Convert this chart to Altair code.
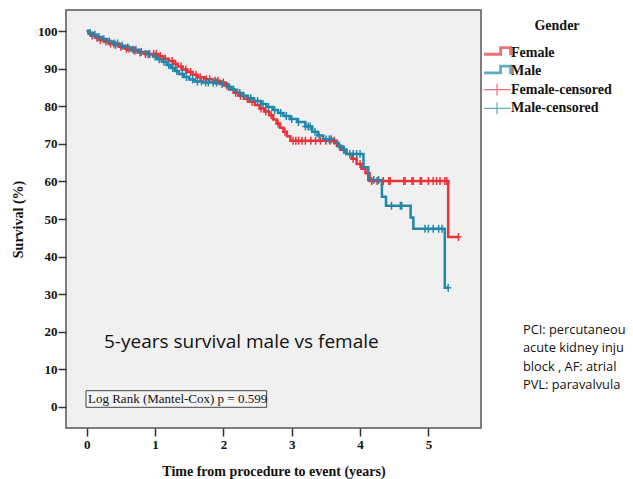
import altair as alt
import pandas as pd

# ---- Kaplan-Meier step points (time in years, survival %) ----
female_t = [0, 0.03, 0.07, 0.12, 0.18, 0.25, 0.32, 0.40, 0.48, 0.56, 0.65, 0.75, 0.85, 1.05, 1.12,
            1.20, 1.27, 1.33, 1.40, 1.47, 1.55, 1.62, 1.72, 1.85, 1.95, 2.02, 2.08, 2.15, 2.22, 2.30,
            2.38, 2.46, 2.53, 2.60, 2.67, 2.73, 2.78, 2.83, 2.88, 2.93, 2.98, 3.66, 3.72, 3.80, 3.88,
            3.95, 4.02, 4.08, 4.14, 5.29]
female_s = [100, 99.3, 98.8, 98.2, 97.6, 97.2, 96.7, 96.3, 95.8, 95.3, 94.8, 94.3, 93.9, 93.3, 92.6,
            92.0, 91.3, 90.6, 89.8, 89.1, 88.4, 87.7, 87.2, 86.8, 86.3, 85.5, 84.5, 83.6, 82.8, 82.0,
            81.2, 80.3, 79.4, 78.6, 77.6, 76.5, 75.4, 74.3, 73.2, 72.0, 70.8, 69.5, 68.4, 67.3, 66.0,
            64.6, 63.4, 62.2, 60.1, 45.2]
male_t = [0, 0.04, 0.09, 0.15, 0.22, 0.30, 0.38, 0.47, 0.56, 0.66, 0.76, 0.88, 0.97, 1.03, 1.10,
          1.17, 1.23, 1.29, 1.35, 1.42, 1.50, 1.58, 1.70, 1.95, 2.05, 2.12, 2.20, 2.28, 2.36, 2.45,
          2.55, 2.63, 2.72, 2.80, 2.88, 2.97, 3.08, 3.20, 3.30, 3.38, 3.46, 3.62, 3.68, 3.74, 3.80,
          4.05, 4.12, 4.32, 4.38, 4.74, 4.78, 5.24]
male_s = [100, 99.5, 99.0, 98.4, 97.8, 97.2, 96.7, 96.1, 95.6, 95.0, 94.4, 93.8, 93.2, 92.5, 91.8,
          91.0, 90.2, 89.4, 88.6, 87.8, 87.1, 86.6, 86.3, 85.9, 85.2, 84.4, 83.5, 82.8, 82.1, 81.4,
          80.6, 79.8, 79.0, 78.2, 77.4, 76.6, 75.8, 74.6, 73.2, 72.2, 71.2, 70.3, 69.3, 68.4, 67.3,
          63.8, 60.4, 55.9, 53.5, 50.4, 47.4, 31.7]

# ---- censoring times ----
female_censor_t = [0.08, 0.15, 0.20, 0.28, 0.35, 0.42, 0.50, 0.58, 0.62, 0.70, 0.78, 0.86, 0.92, 0.98,
                   1.02, 1.08, 1.15, 1.25, 1.30, 1.38, 1.45, 1.52, 1.60, 1.66, 1.75, 1.80, 1.88, 1.92,
                   2.00, 2.05, 2.18, 2.25, 2.35, 2.42, 2.55, 2.62, 2.70, 2.80, 2.90, 3.02, 3.06, 3.10,
                   3.15, 3.20, 3.28, 3.35, 3.42, 3.50, 3.56, 3.62, 3.76, 3.90, 4.00, 4.17, 4.25, 4.34,
                   4.42, 4.44, 4.64, 4.66, 4.76, 4.78, 4.88, 4.90, 5.00, 5.07, 5.12, 5.17, 5.24, 5.27,
                   5.44]
male_censor_t = [0.05, 0.12, 0.18, 0.25, 0.33, 0.40, 0.45, 0.52, 0.60, 0.68, 0.72, 0.80, 0.90, 1.00,
                 1.06, 1.13, 1.20, 1.26, 1.32, 1.40, 1.46, 1.55, 1.62, 1.68, 1.74, 1.78, 1.85, 1.90,
                 1.98, 2.08, 2.15, 2.24, 2.30, 2.40, 2.50, 2.58, 2.66, 2.75, 2.84, 2.92, 3.00, 3.10,
                 3.20, 3.24, 3.27, 3.34, 3.40, 3.50, 3.55, 3.58, 3.70, 3.77, 3.85, 3.90, 3.95, 4.00,
                 4.20, 4.27, 4.46, 4.59, 4.61, 4.95, 5.00, 5.07, 5.15, 5.20, 5.29]

series_names = ["Female", "Male", "Female-censored", "Male-censored"]
series_colors = ["#E8333B", "#1F88AB", "#E8333B", "#1F88AB"]
legend_title = "Gender"
x_ticks = [0, 1, 2, 3, 4, 5]
y_ticks = [0, 10, 20, 30, 40, 50, 60, 70, 80, 90, 100]
annotation_text = "5-years survival male vs female"
logrank_text = "Log Rank (Mantel-Cox) p = 0.599"
side_note = ["PCI: percutaneou", "acute kidney inju", "block , AF: atrial", "PVL: paravalvula"]


def surv_at(ts, ss, t):
    v = ss[0]
    for ti, si in zip(ts, ss):
        if ti <= t + 1e-9:
            v = si
    return v


line_rows = []
cens_rows = []
for name, ts, ss, cs in [("Female", female_t, female_s, female_censor_t),
                         ("Male", male_t, male_s, male_censor_t)]:
    for t, s in zip(ts, ss):
        line_rows.append({"series": name, "t": t, "s": s})
    if max(cs) > ts[-1]:
        line_rows.append({"series": name, "t": max(cs), "s": ss[-1]})
    for c in cs:
        cens_rows.append({"series": name + "-censored", "t": c, "s": surv_at(ts, ss, c)})

lines_df = pd.DataFrame(line_rows)
cens_df = pd.DataFrame(cens_rows)

SERIF = "Liberation Serif"

x_enc = alt.X("t:Q",
              scale=alt.Scale(domain=[-0.303, 5.77], nice=False, zero=False),
              axis=alt.Axis(values=x_ticks, format="d", title="Time from procedure to event (years)",
                            orient="bottom",
                            domain=False, grid=False, tickSize=8, tickWidth=1.5, tickColor="#333333",
                            labelFont=SERIF, labelFontSize=13, labelFontWeight="bold", labelColor="#111111",
                            labelPadding=2, titleFont=SERIF, titleFontSize=14, titleFontWeight="bold",
                            titleColor="#111111", titlePadding=13))
y_enc = alt.Y("s:Q",
              scale=alt.Scale(domain=[-5.6, 105.6], nice=False, zero=False),
              axis=alt.Axis(values=y_ticks, format="d", title="Survival (%)", orient="left",
                            domain=False, grid=False, tickSize=8, tickWidth=1.5, tickColor="#333333",
                            labelFont=SERIF, labelFontSize=13, labelFontWeight="bold", labelColor="#111111",
                            labelPadding=1, titleFont=SERIF, titleFontSize=14, titleFontWeight="bold",
                            titleColor="#111111", titlePadding=12))

# legend symbols drawn as filled outlines (step = thick, censored cross = thin)
step_path = ("M-1,0.05L1.57,0.05L1.57,0.45L-1,0.45Z"
             "M1.17,-0.9L1.57,-0.9L1.57,0.45L1.17,0.45Z"
             "M1.17,-0.9L3.0,-0.9L3.0,-0.5L1.17,-0.5Z"
             "M2.6,-0.9L3.0,-0.9L3.0,0.4L2.6,0.4Z")
cens_path = ("M-1,-0.085L2.8,-0.085L2.8,0.085L-1,0.085Z"
             "M0.775,-0.85L0.945,-0.85L0.945,0.85L0.775,0.85Z")
legend = alt.Legend(
    title=None, orient="none", legendX=418, legendY=35.5,
    labelFont=SERIF, labelFontSize=14, labelFontWeight="bold", labelColor="#111111",
    symbolSize=196, labelOffset=13, rowPadding=4.6, symbolStrokeWidth=0,
)
color_scale = alt.Scale(domain=series_names, range=series_colors)
color_enc = alt.Color("series:N", scale=color_scale, legend=legend)

# legend-only layer: supplies the per-entry symbol shapes (draws nothing)
legend_layer = alt.Chart(cens_df).transform_filter("false").mark_point(filled=True, strokeWidth=0).encode(
    x=x_enc, y=y_enc, color=color_enc,
    shape=alt.Shape("series:N", scale=alt.Scale(domain=series_names,
                                                range=[step_path, step_path, cens_path, cens_path]),
                    legend=legend),
)

lines = alt.Chart(lines_df).mark_line(interpolate="step-after", strokeWidth=2.5).encode(
    x=x_enc, y=y_enc, color=color_enc)

points = alt.Chart(cens_df).mark_point(shape="M-0.75,0L0.75,0M0,-1L0,1", size=64, filled=False,
                                       strokeWidth=1.5, opacity=1).encode(
    x=x_enc, y=y_enc, color=color_enc)

gender_title = alt.Chart(pd.DataFrame({"label": [legend_title]})).mark_text(
    align="center", baseline="middle", font=SERIF, fontSize=14, fontWeight="bold", color="#111111").encode(
    x=alt.value(491), y=alt.value(16), text="label:N")

note = alt.Chart(pd.DataFrame({"label": [annotation_text]})).mark_text(
    align="left", baseline="middle", font="Open Sans", fontSize=19, color="#111111").encode(
    x=alt.value(38), y=alt.value(332), text="label:N")

box = alt.Chart(pd.DataFrame({"label": [logrank_text]})).mark_rect(
    fill="#F5F5F5", stroke="#444444", strokeWidth=1).encode(
    x=alt.value(20), x2=alt.value(200.7), y=alt.value(380.7), y2=alt.value(397.3))

logrank = alt.Chart(pd.DataFrame({"label": [logrank_text]})).mark_text(
    align="left", baseline="middle", font=SERIF, fontSize=13, color="#111111").encode(
    x=alt.value(22), y=alt.value(389), text="label:N")

side = alt.Chart(pd.DataFrame({"n": [0]})).mark_text(
    align="left", baseline="middle", font="Open Sans", fontSize=12.8, lineHeight=18.3, color="#111111").encode(
    x=alt.value(457), y=alt.value(320), text=alt.value(side_note))

chart = alt.layer(legend_layer, lines, points, box, logrank, note, side, gender_title).properties(
    width=415, height=418,
    padding={"left": 58, "top": 2, "right": 144, "bottom": 51},
    autosize=alt.AutoSizeParams(type="none"),
).configure_view(fill="#F0F0F0", stroke="#555555", strokeWidth=1.5)

chart.save("out.html", embed_options={"renderer": "svg", "actions": False})
